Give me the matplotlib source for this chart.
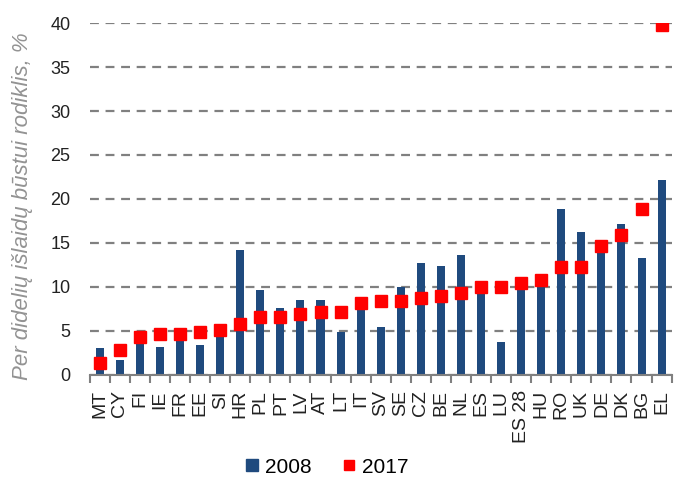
import numpy as np
import matplotlib.pyplot as plt
from matplotlib.lines import Line2D

plt.rcParams['font.family'] = ['Liberation Sans', 'DejaVu Sans']

countries = ['MT', 'CY', 'FI', 'IE', 'FR', 'EE', 'SI', 'HR', 'PL', 'PT', 'LV', 'AT', 'LT', 'IT',
             'SV', 'SE', 'CZ', 'BE', 'NL', 'ES', 'LU', 'ES 28', 'HU', 'RO', 'UK', 'DE', 'DK', 'BG', 'EL']
v2008 = [3.1, 1.7, 3.9, 3.2, 4.0, 3.4, 4.3, 14.2, 9.7, 7.6, 8.5, 8.5, 4.9, 8.0,
         5.5, 10.0, 12.7, 12.4, 13.6, 9.8, 3.7, 10.2, 11.4, 18.9, 16.2, 14.5, 17.2, 13.3, 22.2]
v2017 = [1.3, 2.8, 4.3, 4.6, 4.6, 4.85, 5.1, 5.75, 6.6, 6.6, 6.9, 7.2, 7.2, 8.15,
         8.4, 8.4, 8.7, 9.0, 9.35, 10.0, 10.0, 10.5, 10.8, 12.3, 12.3, 14.7, 15.9, 18.9, 39.8]

blue = '#1F4A7E'
red = '#FF0000'
grey = '#808080'

fig = plt.figure(figsize=(6.75, 4.8), dpi=100)
ax = fig.add_axes([0.133, 0.219, 0.862, 0.733])

x = np.arange(len(countries))
ax.bar(x, v2008, width=0.4, color=blue, zorder=2)
ax.plot(x, v2017, 's', color=red, markersize=8.5, zorder=3)

ax.set_ylim(0, 40)
ax.set_xlim(-0.5, len(countries) - 0.5)
ax.set_yticks(range(0, 41, 5))
ax.yaxis.grid(True, color=grey, linestyle=(0, (4, 3)), linewidth=1.6, zorder=1)
ax.set_axisbelow(True)

for s in ['top', 'right', 'left']:
    ax.spines[s].set_visible(False)
ax.spines['bottom'].set_color(grey)
ax.spines['bottom'].set_linewidth(1.5)

ax.set_xticks(x)
ax.set_xticklabels(countries, rotation=90, fontsize=14, color='#222222')
ax.tick_params(axis='x', length=0, pad=11)
ax.set_xticks(np.arange(-0.5, len(countries), 1), minor=True)
ax.tick_params(axis='x', which='minor', length=6, width=1.5, color=grey)
ax.tick_params(axis='y', length=0, labelsize=13, pad=14, labelcolor='#222222')

ax.set_ylabel('Per didelių išlaidų būstui rodiklis, %', fontsize=16, style='italic',
              color='#939393')
ax.yaxis.set_label_coords(-0.098, 0.48)

handles = [Line2D([], [], marker='s', linestyle='', color=blue, markersize=8),
           Line2D([], [], marker='s', linestyle='', color=red, markersize=7)]
fig.legend(handles, ['2008', '2017'], loc='center', bbox_to_anchor=(0.48, 0.027),
           ncol=2, frameon=False, fontsize=15, handletextpad=0.0, columnspacing=1.2,
           handlelength=1.2)

fig.savefig('out.png', dpi=100)
